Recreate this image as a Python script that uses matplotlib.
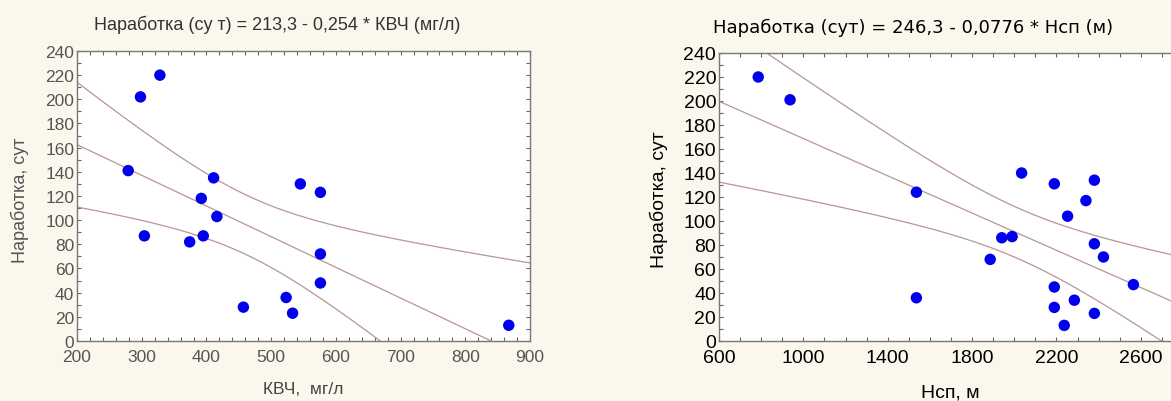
import numpy as np
import matplotlib.pyplot as plt
from matplotlib.ticker import MultipleLocator

# Left panel: КВЧ (мг/л) vs наработка (сут)
kvch = [328, 298, 279, 304, 374, 392, 395, 411, 416, 457, 523, 533, 545, 576, 576, 576, 867]
nar_left = [220, 202, 141, 87, 82, 118, 87, 135, 103, 28, 36, 23, 130, 123, 72, 48, 13]
coef_left = (213.3, -0.254)
t_left = 2.131  # 95%, df=15

# Right panel: Нсп (м) vs наработка (сут)
hsp = [786, 937, 1536, 1536, 1886, 1941, 1990, 2035, 2190, 2190, 2190, 2237, 2253,
       2285, 2340, 2380, 2380, 2380, 2423, 2565]
nar_right = [220, 201, 124, 36, 68, 86, 87, 140, 131, 45, 28, 13, 104,
             34, 117, 134, 81, 23, 70, 47]
coef_right = (246.3, -0.0776)
t_right = 2.101  # 95%, df=18

bg = '#fbf7ec'
line_col = '#b99595'
plt.rcParams['font.family'] = ['Liberation Sans', 'DejaVu Sans']

fig = plt.figure(figsize=(11.71, 4.02), dpi=100, facecolor=bg)


def draw(ax, x, y, coef, t, xlim, tcol, fs, xpad):
    x = np.array(x, float)
    y = np.array(y, float)
    n = len(x)
    b0, b1 = coef
    resid = y - (b0 + b1 * x)
    s = np.sqrt(np.sum(resid ** 2) / (n - 2))
    xbar = x.mean()
    sxx = np.sum((x - xbar) ** 2)
    xx = np.linspace(xlim[0], xlim[1], 300)
    yy = b0 + b1 * xx
    hw = t * s * np.sqrt(1.0 / n + (xx - xbar) ** 2 / sxx)
    for curve in (yy, yy + hw, yy - hw):
        ax.plot(xx, curve, color=line_col, lw=0.9)
    ax.scatter(x, y, s=68, color='#0000ee', zorder=3, edgecolors='none')
    ax.set_xlim(*xlim)
    ax.set_ylim(0, 240)
    ax.set_facecolor('white')
    ax.yaxis.set_major_locator(MultipleLocator(20))
    ax.yaxis.set_minor_locator(MultipleLocator(10))
    ax.tick_params(which='both', direction='in', top=True, right=True,
                   length=3, width=0.8, color='#666666', labelcolor=tcol,
                   labelsize=fs, pad=2)
    ax.tick_params(axis='x', pad=xpad)
    for sp in ax.spines.values():
        sp.set_color('#777777')
        sp.set_linewidth(1.0)


ax1 = fig.add_axes([0.0658, 0.1493, 0.3869, 0.7214])
draw(ax1, kvch, nar_left, coef_left, t_left, (200, 900), '#555555', 12.5, 6)
ax1.xaxis.set_major_locator(MultipleLocator(100))
ax1.xaxis.set_minor_locator(MultipleLocator(20))
fig.text(277 / 1171, 1 - 25 / 402, 'Наработка (су т) = 213,3 - 0,254 * КВЧ (мг/л)',
         ha='center', va='center', fontsize=13, color='#333333')
fig.text(303 / 1171, 1 - 390 / 402, 'КВЧ,  мг/л', ha='center', va='center',
         fontsize=12.5, color='#444444')
fig.text(20 / 1171, 1 - 200 / 402, 'Наработка, сут', ha='center', va='center',
         rotation=90, fontsize=13, color='#555555')

ax2 = fig.add_axes([0.614, 0.1493, 0.3962, 0.7164])
draw(ax2, hsp, nar_right, coef_right, t_right, (600, 2800), 'black', 14, 6)
ax2.set_xticks(range(600, 2801, 400))
ax2.xaxis.set_minor_locator(MultipleLocator(100))
fig.text(913 / 1171, 1 - 28 / 402, 'Наработка (сут) = 246,3 - 0,0776 * Нсп (м)',
         ha='center', va='center', fontsize=13, color='black',
         family='DejaVu Sans')
fig.text(950 / 1171, 1 - 393 / 402, 'Нсп, м', ha='center', va='center',
         fontsize=14, color='black')
fig.text(659 / 1171, 1 - 200 / 402, 'Наработка, сут', ha='center', va='center',
         rotation=90, fontsize=14, color='black')

fig.savefig('out.png', dpi=100, facecolor=bg)
